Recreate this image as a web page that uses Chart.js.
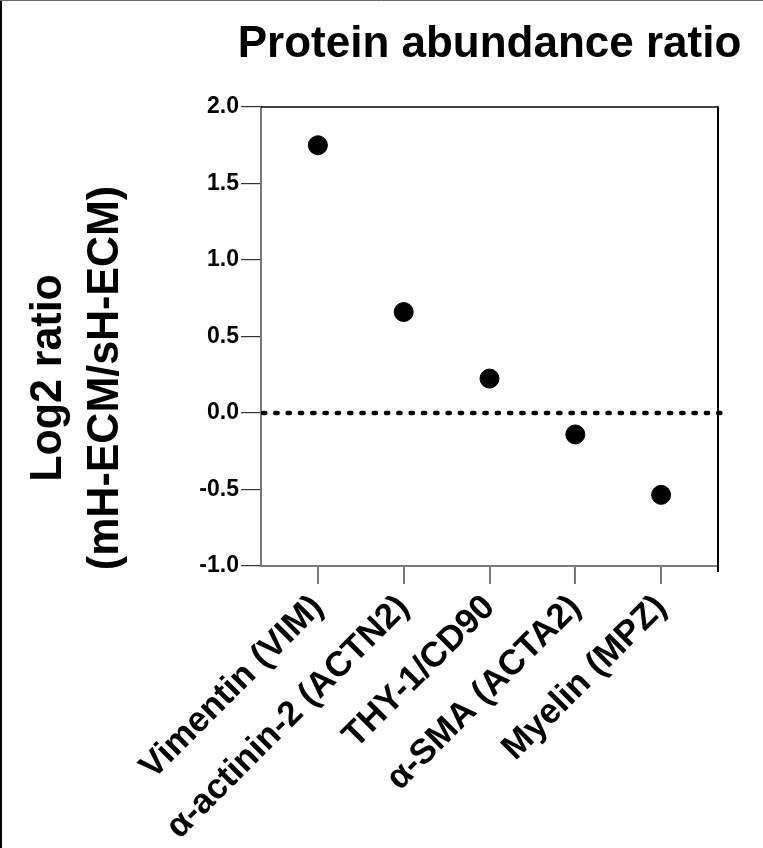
<!DOCTYPE html>
<html>
<head>
<meta charset="utf-8">
<script src="https://cdn.jsdelivr.net/npm/chart.js@4/dist/chart.umd.min.js"></script>
<style>
  html, body { margin: 0; padding: 0; background: #fff; }
  #wrap { position: relative; width: 763px; height: 848px; }
  canvas { display: block; }
</style>
</head>
<body>
<div id="wrap"><canvas id="c" width="763" height="848"></canvas></div>
<script>
// ---- data ----
const categories = ['Vimentin (VIM)', 'α-actinin-2 (ACTN2)', 'THY-1/CD90', 'α-SMA (ACTA2)', 'Myelin (MPZ)'];
const log2Ratio = [1.75, 0.66, 0.225, -0.14, -0.535];
const yTickValues = [-1.0, -0.5, 0.0, 0.5, 1.0, 1.5, 2.0];
const chartTitle = 'Protein abundance ratio';
const yTitleLines = ['Log2 ratio', '(mH-ECM/sH-ECM)'];

const FONT = '"Liberation Sans", Arial, Helvetica, sans-serif';

const points = categories.map((c, i) => ({ x: i, y: log2Ratio[i] }));

const framePlugin = {
  id: 'frame',
  beforeDatasetsDraw(chart) {
    const { ctx, chartArea: a, scales } = chart;
    const y0 = scales.y.getPixelForValue(0);
    ctx.save();
    ctx.strokeStyle = '#000';
    ctx.lineWidth = 4.5;
    ctx.lineCap = 'round';
    ctx.setLineDash([2.3, 10]);
    ctx.beginPath();
    ctx.moveTo(a.left + 2, y0);
    ctx.lineTo(a.right + 4, y0);
    ctx.stroke();
    ctx.restore();
  },
  afterDraw(chart) {
    const { ctx, chartArea: a, width, height } = chart;
    ctx.save();
    ctx.strokeStyle = '#000';
    ctx.lineWidth = 1.5;
    ctx.beginPath();
    ctx.moveTo(a.left, a.top);
    ctx.lineTo(a.right, a.top);
    ctx.stroke();
    ctx.lineWidth = 2;
    ctx.beginPath();
    ctx.moveTo(a.right, a.top - 0.75);
    ctx.lineTo(a.right, a.bottom + 6);
    ctx.stroke();
    // outer image border (left + top)
    ctx.strokeStyle = '#000';
    ctx.lineWidth = 2;
    ctx.beginPath();
    ctx.moveTo(1, 0);
    ctx.lineTo(1, height);
    ctx.stroke();
    ctx.strokeStyle = '#666';
    ctx.lineWidth = 1;
    ctx.beginPath();
    ctx.moveTo(0, 0.5);
    ctx.lineTo(width, 0.5);
    ctx.stroke();
    // chart title, centred over the plot area
    ctx.fillStyle = '#000';
    ctx.font = 'bold 44px ' + FONT;
    ctx.textAlign = 'center';
    ctx.textBaseline = 'alphabetic';
    ctx.fillText(chartTitle, (a.left + a.right) / 2, 57);
    // y axis title (two lines, rotated)
    const cy = 378;
    ctx.font = 'bold 45px ' + FONT;
    const baselines = [61, 118];
    yTitleLines.forEach((t, i) => {
      ctx.save();
      ctx.translate(baselines[i], cy);
      ctx.rotate(-Math.PI / 2);
      ctx.scale(0.955, 1);
      ctx.fillText(t, 0, 0);
      ctx.restore();
    });
    ctx.restore();
  }
};

new Chart(document.getElementById('c'), {
  type: 'scatter',
  data: {
    datasets: [{
      data: points,
      backgroundColor: '#000',
      borderColor: '#000',
      pointRadius: 9.5,
      pointHoverRadius: 9.5,
      showLine: false,
      clip: false
    }]
  },
  options: {
    responsive: false,
    animation: false,
    devicePixelRatio: 1,
    layout: { padding: { left: 0, right: 45, top: 107, bottom: 0 } },
    plugins: {
      legend: { display: false },
      tooltip: { enabled: false },
      title: { display: false }
    },
    scales: {
      x: {
        type: 'linear',
        min: -0.663,
        max: 4.663,
        afterBuildTicks(s) { s.ticks = categories.map((c, i) => ({ value: i })); },
        afterFit(s) { s.height = 282; },
        border: { display: true, color: '#7a7a7a', width: 2 },
        grid: { drawOnChartArea: false, drawTicks: true, tickLength: 18, color: '#7a7a7a', lineWidth: 2 },
        ticks: {
          autoSkip: false,
          maxRotation: 45,
          minRotation: 45,
          padding: 3,
          color: '#000',
          font: { family: FONT, size: 35, weight: 'bold' },
          callback: (v) => categories[v] ?? ''
        }
      },
      y: {
        min: -1,
        max: 2,
        afterBuildTicks(s) { s.ticks = yTickValues.map(v => ({ value: v })); },
        afterFit(s) { s.width = 261; },
        border: { display: true, color: '#7a7a7a', width: 2 },
        grid: { drawOnChartArea: false, drawTicks: true, tickLength: 20, color: '#333', lineWidth: 1.2 },
        ticks: {
          padding: 2,
          color: '#000',
          font: { family: FONT, size: 23, weight: 'bold' },
          callback: (v) => Number(v).toFixed(1)
        }
      }
    }
  },
  plugins: [framePlugin]
});
</script>
</body>
</html>
